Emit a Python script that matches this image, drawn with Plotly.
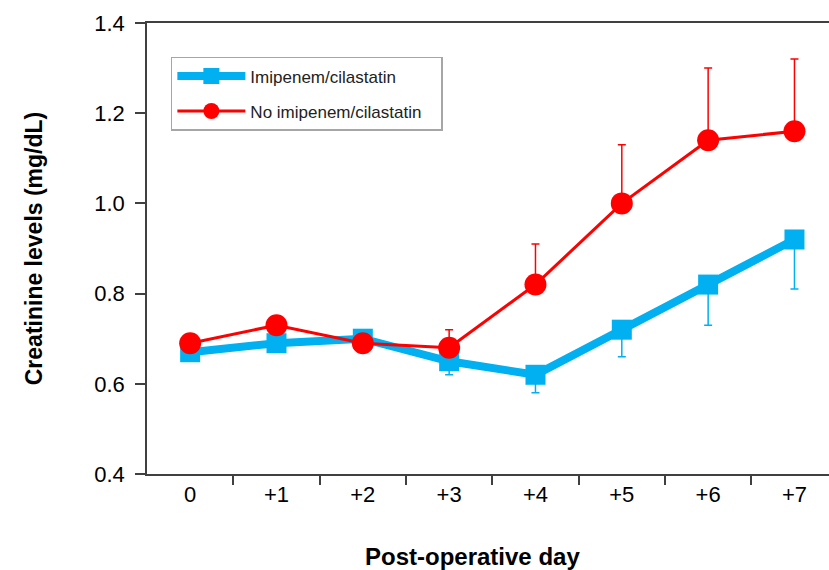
import plotly.graph_objects as go

days = ["0", "+1", "+2", "+3", "+4", "+5", "+6", "+7"]
imi_mean = [0.67, 0.69, 0.70, 0.65, 0.62, 0.72, 0.82, 0.92]
imi_err_minus = [0.01, 0.02, 0.03, 0.03, 0.04, 0.06, 0.09, 0.11]
noimi_mean = [0.69, 0.73, 0.69, 0.68, 0.82, 1.00, 1.14, 1.16]
noimi_err_plus = [0.01, 0.01, 0.01, 0.04, 0.09, 0.13, 0.16, 0.16]

BLUE = "#00B0F0"
RED = "#FF0000"
FONT = "Liberation Sans, Arial, sans-serif"

x_idx = list(range(len(days)))

fig = go.Figure()
fig.add_trace(go.Scatter(
    x=x_idx, y=imi_mean, mode="lines+markers", name="Imipenem/cilastatin",
    line=dict(color=BLUE, width=8),
    marker=dict(symbol="square", size=20, color=BLUE),
    error_y=dict(type="data", symmetric=False, array=[0] * len(days),
                 arrayminus=imi_err_minus, color=BLUE, thickness=1.5, width=4),
    legendgroup="a",
))
fig.add_trace(go.Scatter(
    x=x_idx, y=noimi_mean, mode="lines+markers",
    name="No imipenem/cilastatin\u00a0\u00a0\u00a0",
    line=dict(color=RED, width=3),
    marker=dict(symbol="circle", size=22, color=RED),
    error_y=dict(type="data", symmetric=False, array=noimi_err_plus,
                 arrayminus=[0] * len(days), color=RED, thickness=1.5, width=4),
    legendgroup="b",
))

fig.update_layout(
    width=829, height=570,
    margin=dict(l=147, r=0, t=23, b=96),
    paper_bgcolor="white", plot_bgcolor="white",
    font=dict(family=FONT, color="black"),
    showlegend=True,
    legend=dict(x=0.035, y=0.925, xanchor="left", yanchor="top",
                bordercolor="#A6A6A6", borderwidth=1.5, bgcolor="white",
                font=dict(size=17, family=FONT, color="#222"),
                itemwidth=68, tracegroupgap=10),
    xaxis=dict(
        tickmode="array", tickvals=x_idx, ticktext=days,
        range=[-0.5, 7.4], showgrid=False, zeroline=False,
        showline=True, linecolor="#404040", linewidth=1.5, mirror=True,
        ticks="", tickfont=dict(size=22),
    ),
    xaxis2=dict(
        overlaying="x", range=[-0.5, 7.4], tickmode="array",
        tickvals=[i + 0.5 for i in range(len(days))], ticktext=[""] * len(days),
        ticks="outside", ticklen=10, tickwidth=1.5, tickcolor="#404040",
        showgrid=False, zeroline=False, showline=False, side="bottom",
        anchor="y",
    ),
    yaxis=dict(
        range=[0.4, 1.4], tickmode="array",
        tickvals=[0.4, 0.6, 0.8, 1.0, 1.2, 1.4],
        ticktext=["0.4", "0.6", "0.8", "1.0", "1.2", "1.4"],
        showgrid=False, zeroline=False,
        showline=True, linecolor="#404040", linewidth=1.5,
        ticks="outside", ticklen=10, tickwidth=1.5, tickcolor="#404040",
        tickfont=dict(size=22), ticklabelstandoff=6,
        title=dict(text="<b>Creatinine levels (mg/dL)</b>", font=dict(size=23), standoff=45),
    ),
    annotations=[dict(
        text="<b>Post-operative day</b>", xref="paper", yref="paper",
        x=0.478, y=-0.184, xanchor="center", yanchor="middle",
        showarrow=False, font=dict(size=24, family=FONT, color="black"),
    )],
)
# invisible trace to activate xaxis2 ticks between categories
fig.add_trace(go.Scatter(x=[None], y=[None], xaxis="x2", showlegend=False, hoverinfo="skip"))

fig.write_html("out.html")
